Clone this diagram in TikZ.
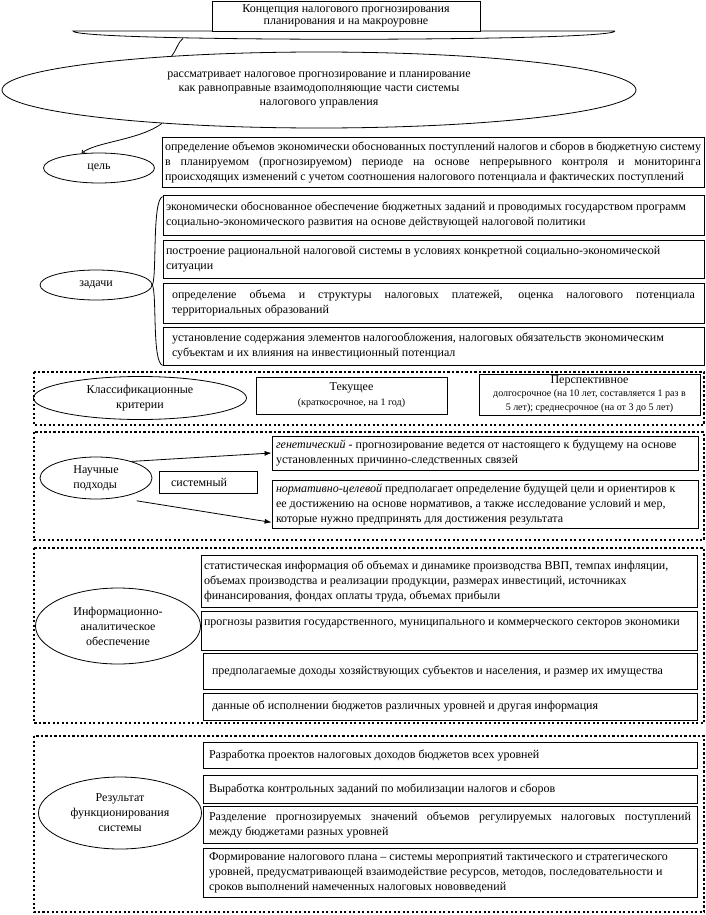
\documentclass[tikz,border=0pt]{standalone}
\usepackage{fontspec}
\setmainfont{Liberation Serif}
\usetikzlibrary{shapes.geometric,arrows.meta}
\hyphenpenalty=10000
\exhyphenpenalty=10000
\newcommand\msz{\fontsize{12}{15}\selectfont}
\newcommand\ssz{\fontsize{10}{13}\selectfont}
\tikzset{
  bx/.style={draw, line width=0.8pt, rectangle, inner sep=0pt},
  el/.style={draw, line width=0.8pt, ellipse, inner sep=0pt},
  dotfr/.style={draw, line width=2.3pt, dash pattern=on 2.3pt off 2.2pt},
  ln/.style={line width=0.8pt},
  arr/.style={line width=0.8pt, -{Latex[length=7pt,width=5pt]}},
}
% name, x, y, w, h, pad, content
\newcommand\tbox[7]{\node[bx,minimum width=#4pt,minimum height=#5pt] (#1) at ({#2+#4/2},{#3+#5/2}) {\parbox{\dimexpr#4pt-#6pt-#6pt\relax}{#7}};}
\begin{document}
\begin{tikzpicture}[x=1pt,y=-1pt,every node/.style={font=\msz}]
\useasboundingbox (0,0) rectangle (706,915);
\fill[white] (0,0) rectangle (706,915);

% top
\draw[ln] (615,31) -- (73,31) .. controls (73,42) and (615,42) .. (615,31);
\node[bx, fill=white, minimum width=268pt, minimum height=30pt, align=center] (title) at (346,16) {Концепция налогового прогнозирования\\[-3pt]планирования и на макроуровне};
\node[el, minimum width=634pt, minimum height=76pt, align=center] (main) at (319,90) {рассматривает налоговое прогнозирование и планирование\\[-1pt]как равноправные взаимодополняющие части системы\\[-1pt]налогового управления};
\coordinate (c1) at (183,38.5);
\draw[ln] (c1) .. controls (178,42) and (177,49) .. (main.167);

% goal
\node[el, minimum width=111pt, minimum height=30pt] (goal) at (99,168) {цель};
\draw[ln,-{Straight Barb[length=2.5pt,width=4pt]}] (main.192) .. controls (140,140) and (95,142) .. (goal.140);
\tbox{gbox}{162}{137}{542}{50}{3}{определение объемов экономически обоснованных поступлений налогов и сборов в бюджетную систему\linebreak в планируемом (прогнозируемом) периоде на основе непрерывного контроля и мониторинга\linebreak происходящих изменений с учетом соотношения налогового потенциала и фактических поступлений}

% tasks
\node[el, minimum width=112pt, minimum height=30pt] (zad) at (96,285) {задачи};
\tbox{t1}{163}{195}{541}{40}{3}{\raggedright экономически обоснованное обеспечение бюджетных заданий и проводимых государством программ\\социально-экономического развития на основе действующей налоговой политики}
\tbox{t2}{163}{240}{541}{38}{3}{\raggedright построение рациональной налоговой системы в условиях конкретной социально-экономической\\ситуации}
\tbox{t3}{163}{283}{541}{40}{9}{определение объема и структуры налоговых платежей, оценка налогового потенциала\linebreak территориальных образований}
\tbox{t4}{163}{327}{541}{38}{9}{\raggedright установление содержания элементов налогообложения, налоговых обязательств экономическим\\субъектам и их влияния на инвестиционный потенциал}
\draw[ln] ([yshift=-2pt]t1.north west) .. controls (152,200) and (157,275) .. (zad.east) .. controls (157,295) and (152,362) .. (t4.south west);

% classification
\draw[dotfr] (34,372) rectangle (704,425);
\node[el, minimum width=213pt, minimum height=43pt, align=center] (cls) at (140,398) {Классификационные\\критерии};
\node[bx, minimum width=191pt, minimum height=37pt, align=center] (cur) at (351.5,395.5) {Текущее\\\ssz (краткосрочное, на 1 год)};
\node[bx, minimum width=221pt, minimum height=41pt, align=center] (per) at (589.5,394.5) {Перспективное\\[-2pt]\ssz долгосрочное (на 10 лет, составляется 1 раз в\\[-1pt]\ssz 5 лет); среднесрочное (на от 3 до 5 лет)};

% approaches
\draw[dotfr] (34,432) rectangle (704,540);
\node[el, minimum width=112pt, minimum height=42pt, align=left] (sci) at (96,478) {Научные\\подходы};
\tbox{sys}{159}{471}{98}{22}{12}{\raggedright системный}
\tbox{gen}{272}{436}{426}{34}{4}{\raggedright \textit{генетический} - прогнозирование ведется от настоящего к будущему на основе\\установленных причинно-следственных связей}
\tbox{norm}{272}{480}{426}{48}{4}{\raggedright \textit{нормативно-целевой} предполагает определение будущей цели и ориентиров к\\ее достижению на основе нормативов, а также исследование условий и мер,\\которые нужно предпринять для достижения результата}
\draw[arr] (sci.25) -- (gen.west);
\draw[arr] ([yshift=-8pt]sci.-20) -- ([yshift=6pt]norm.south west);

% information
\draw[dotfr] (34,548) rectangle (704,723);
\node[el, minimum width=165pt, minimum height=76pt, align=center] (info) at (118,626) {Информационно-\\аналитическое\\обеспечение};
\tbox{ia}{201}{555}{496}{52}{3}{\raggedright статистическая информация об объемах и динамике производства ВВП, темпах инфляции,\\объемах производства и реализации продукции, размерах инвестиций, источниках\\финансирования, фондах оплаты труда, объемах прибыли}
\tbox{ib}{201}{611}{496}{39}{3}{\raggedright прогнозы развития государственного, муниципального и коммерческого секторов экономики\par\vspace{14pt}}
\tbox{ic}{203}{653}{494}{36}{9}{\raggedright предполагаемые доходы хозяйствующих субъектов и населения, и размер их имущества}
\tbox{id}{203}{693}{494}{27}{9}{\raggedright данные об исполнении бюджетов различных уровней и другая информация}

% result
\draw[dotfr] (34,736) rectangle (704,912);
\node[el, minimum width=163pt, minimum height=72pt, align=center] (res) at (120,813) {Результат\\функционирования\\системы};
\tbox{ra}{203}{742}{494}{26}{6}{\raggedright Разработка проектов налоговых доходов бюджетов всех уровней}
\tbox{rb}{203}{775}{494}{28}{6}{\raggedright Выработка контрольных заданий по мобилизации налогов и сборов}
\tbox{rc}{203}{806}{494}{37}{6}{Разделение прогнозируемых значений объемов регулируемых налоговых поступлений\linebreak между бюджетами разных уровней}
\tbox{rd}{203}{848}{494}{49}{6}{\raggedright Формирование налогового плана – системы мероприятий тактического и стратегического\\уровней, предусматривающей взаимодействие ресурсов, методов, последовательности и\\сроков выполнений намеченных налоговых нововведений}
\end{tikzpicture}
\end{document}
